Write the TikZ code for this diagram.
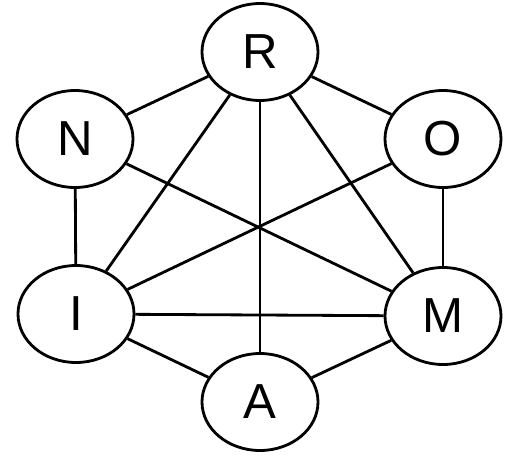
\documentclass[tikz,border=0pt]{standalone}
\usepackage{fontspec}
\usepackage{tikz}
\usetikzlibrary{shapes.geometric}
\newfontfamily\vtxfont{Liberation Sans}
\definecolor{EdgeBlack}{HTML}{000000}

\begin{document}
\begin{tikzpicture}[
  vtx/.style={draw=EdgeBlack,fill=white,ellipse,line width=1.6pt,inner sep=0pt,
              minimum width=2.32cm,minimum height=1.94cm,
              font=\vtxfont\fontsize{28}{30}\selectfont},
  ed/.style={line width=1.6pt,EdgeBlack}
]
\useasboundingbox (0,0) rectangle (10.24,9.14);
\node[vtx] (R) at (5.20,8.10) {R};
\node[vtx] (N) at (1.50,6.36) {N};
\node[vtx] (O) at (8.86,6.36) {O};
\node[vtx] (I) at (1.52,2.86) {I};
\node[vtx] (M) at (8.86,2.82) {M};
\node[vtx] (A) at (5.20,1.10) {A};
\draw[ed] (R) -- (N);
\draw[ed] (R) -- (O);
\draw[ed] (R) -- (I);
\draw[ed] (R) -- (M);
\draw[ed] (R) -- (A);
\draw[ed] (N) -- (I);
\draw[ed] (N) -- (M);
\draw[ed] (O) -- (I);
\draw[ed] (O) -- (M);
\draw[ed] (I) -- (M);
\draw[ed] (I) -- (A);
\draw[ed] (M) -- (A);
\end{tikzpicture}
\end{document}
